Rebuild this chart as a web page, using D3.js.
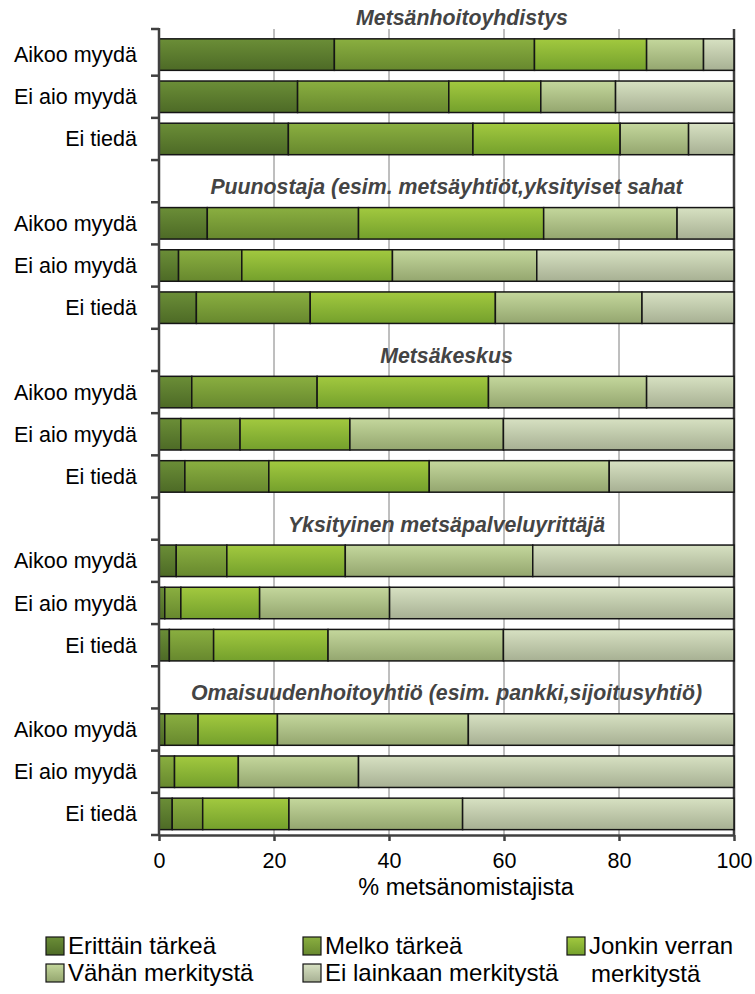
<!DOCTYPE html>
<html><head><meta charset="utf-8">
<script src="https://cdn.jsdelivr.net/npm/d3@7"></script>
<style>
body{margin:0;background:#fff}
svg{display:block}
text{font-family:"Liberation Sans",Arial,sans-serif}
</style>
</head><body><div id="chart"></div>
<script>
// ---- data ----
const groups = ["Metsänhoitoyhdistys",
  "Puunostaja (esim. metsäyhtiöt,yksityiset sahat",
  "Metsäkeskus",
  "Yksityinen metsäpalveluyrittäjä",
  "Omaisuudenhoitoyhtiö (esim. pankki,sijoitusyhtiö)"];
const answers = ["Aikoo myydä", "Ei aio myydä", "Ei tiedä"];
const seriesNames = ["Erittäin tärkeä", "Melko tärkeä", "Jonkin verran merkitystä", "Vähän merkitystä", "Ei lainkaan merkitystä"];
// values per row: group1 (Aikoo, Ei aio, Ei tiedä), group2 ..., group5
const erittain = [30.5, 24.1, 22.5,  8.4, 3.4, 6.5,  5.7, 3.8, 4.5,  3.0, 1.0, 1.8,  1.0, 0.0, 2.3];
const melko    = [34.8, 26.3, 32.1, 26.3, 11.0, 19.8, 21.8, 10.3, 14.6, 8.8, 2.8, 7.7,  5.8, 2.7, 5.3];
const jonkin   = [19.5, 16.0, 25.6, 32.2, 26.2, 32.2, 29.8, 19.1, 27.9, 20.6, 13.7, 19.9, 13.8, 11.1, 15.0];
const vahan    = [ 9.9, 13.0, 11.9, 23.2, 25.1, 25.5, 27.5, 26.7, 31.3, 32.6, 22.6, 30.5, 33.2, 20.9, 30.2];
const eiLainkaan=[ 5.3, 20.6,  7.9,  9.9, 34.3, 16.0, 15.2, 40.1, 21.7, 35.0, 59.9, 40.1, 46.2, 65.3, 47.2];
const xTicks = [0, 20, 40, 60, 80, 100];
const xTitle = "% metsänomistajista";

const seriesValues = [erittain, melko, jonkin, vahan, eiLainkaan];
const gradTop = ["#6b8e37", "#8aaf40", "#a2c93f", "#c4d79c", "#d7e1c2"];
const gradBot = ["#4d6a26", "#67882e", "#74a02c", "#94a66f", "#a7b093"];

// ---- layout ----
const W = 755, H = 994;
const plotL = 159, plotR = 734, plotT = 29, plotB = 835;

const svg = d3.select("#chart").append("svg").attr("width", W).attr("height", H);
const defs = svg.append("defs");
seriesNames.forEach((s, i) => {
  const g = defs.append("linearGradient").attr("id", "g" + i)
    .attr("x1", 0).attr("y1", 0).attr("x2", 0).attr("y2", 1);
  g.append("stop").attr("offset", "0%").attr("stop-color", gradTop[i]);
  g.append("stop").attr("offset", "100%").attr("stop-color", gradBot[i]);
});

// slots: header rows between groups plus answer rows
const slots = [];
const rows = [];
groups.forEach((g, gi) => {
  if (gi > 0) slots.push("H" + gi);
  answers.forEach((a, ai) => {
    const key = gi + "-" + ai;
    slots.push(key);
    const row = { key, label: a };
    seriesNames.forEach((s, si) => row[s] = seriesValues[si][gi * 3 + ai]);
    rows.push(row);
  });
});

const x = d3.scaleLinear().domain([0, 100]).range([plotL, plotR]);
const y = d3.scaleBand().domain(slots).range([33.5, plotB]).padding(0);
const step = y.step();
const barH = 31.5;

// gridlines
svg.append("g").selectAll("line").data(xTicks.filter(t => t > 0 && t < 100)).join("line")
  .attr("x1", d => x(d)).attr("x2", d => x(d)).attr("y1", plotT).attr("y2", plotB)
  .attr("stroke", "#7f7f7f").attr("stroke-width", 1);
// right border
svg.append("line").attr("x1", x(100)).attr("x2", x(100)).attr("y1", plotT).attr("y2", plotB)
  .attr("stroke", "#404040").attr("stroke-width", 2.5);

// bars
const stack = d3.stack().keys(seriesNames)(rows);
stack.forEach((layer, si) => {
  svg.append("g").selectAll("rect").data(layer.filter(d => d[1] - d[0] > 0)).join("rect")
    .attr("x", d => x(d[0]))
    .attr("width", d => x(d[1]) - x(d[0]))
    .attr("y", d => y(d.data.key) + (step - barH) / 2)
    .attr("height", barH)
    .attr("fill", "url(#g" + si + ")")
    .attr("stroke", "#151515").attr("stroke-width", 1.5);
});

// group titles
svg.append("g").selectAll("text").data(groups).join("text")
  .attr("x", (d, i) => i === 0 ? 462 : (plotL + plotR) / 2)
  .attr("y", (d, i) => (i === 0 ? 33.5 - step / 2 : y("H" + i) + step / 2) + 13)
  .attr("text-anchor", "middle")
  .attr("font-size", 21.3).attr("font-weight", "bold").attr("font-style", "italic")
  .attr("fill", "#444")
  .text(d => d);

// left axis
const la = svg.append("g");
la.append("line").attr("x1", plotL).attr("x2", plotL).attr("y1", plotT - 1).attr("y2", plotB)
  .attr("stroke", "#404040").attr("stroke-width", 2.5);
const bounds = [plotT].concat(slots.slice(1).map(s => y(s))).concat([plotB]);
la.selectAll("line.t").data(bounds).join("line").attr("class", "t")
  .attr("x1", plotL - 8).attr("x2", plotL).attr("y1", d => d).attr("y2", d => d)
  .attr("stroke", "#404040").attr("stroke-width", 2.5);
la.selectAll("text").data(rows).join("text")
  .attr("x", 137).attr("y", d => y(d.key) + step / 2)
  .attr("dy", "0.35em").attr("text-anchor", "end")
  .attr("font-size", 21.5).attr("fill", "#000")
  .text(d => d.label);

// bottom axis
const xa = svg.append("g").attr("transform", `translate(0,${plotB})`)
  .call(d3.axisBottom(x).tickValues(xTicks).tickSize(6).tickPadding(12).tickSizeOuter(0));
xa.select(".domain").attr("stroke", "#404040").attr("stroke-width", 2.5);
xa.selectAll(".tick line").attr("stroke", "#404040").attr("stroke-width", 2.5);
xa.selectAll(".tick text").attr("font-size", 21.5).attr("fill", "#000")
  .attr("font-family", '"Liberation Sans",Arial,sans-serif');

svg.append("text").attr("x", 466).attr("y", 895).attr("text-anchor", "middle")
  .attr("font-size", 23.5).attr("fill", "#000").text(xTitle);

// legend
const legPos = [[46, 946], [303, 946], [567, 946], [46, 973], [303, 973]];
const leg = svg.append("g");
seriesNames.forEach((s, i) => {
  const [lx, ly] = legPos[i];
  leg.append("rect").attr("x", lx).attr("y", ly - 9).attr("width", 18).attr("height", 18)
    .attr("fill", "url(#g" + i + ")").attr("stroke", "#151515").attr("stroke-width", 1.2);
  const t = leg.append("text").attr("x", lx + 22).attr("y", ly).attr("dy", "0.35em")
    .attr("font-size", 24).attr("fill", "#000");
  if (i === 2) {
    t.text("Jonkin verran");
    leg.append("text").attr("x", lx + 24).attr("y", ly + 28).attr("dy", "0.35em")
      .attr("font-size", 24).attr("fill", "#000").text("merkitystä");
  } else {
    t.text(s);
  }
});
</script>
</body></html>
